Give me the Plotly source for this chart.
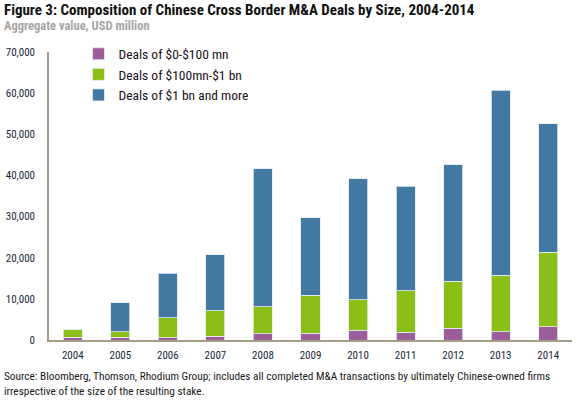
import plotly.graph_objects as go

years = ["2004", "2005", "2006", "2007", "2008", "2009", "2010", "2011", "2012", "2013", "2014"]
small_deals = [700, 700, 530, 920, 1500, 1640, 2370, 1880, 2850, 2050, 3260]
mid_deals = [1800, 1300, 4900, 6130, 6590, 9260, 7410, 10080, 11450, 13700, 18040]
large_deals = [0, 7000, 10770, 13650, 33510, 18800, 29420, 25360, 28330, 44930, 31300]
y_ticks = [0, 10000, 20000, 30000, 40000, 50000, 60000, 70000]

series_names = ["Deals of $0-$100 mn", "Deals of $100mn-$1 bn", "Deals of $1 bn and more"]
series_colors = ["#9B5E9B", "#8BBE17", "#4279A3"]

FONT = "Roboto Condensed, Liberation Sans, sans-serif"
W, H = 578, 402
L, R, T, B = 49, 6, 51.5, 62

fig = go.Figure()
for name, vals, col in zip(series_names, [small_deals, mid_deals, large_deals], series_colors):
    fig.add_trace(go.Bar(
        x=years, y=vals, name=name,
        marker=dict(color=col, line=dict(color="rgba(230,235,240,0.8)", width=1)),
        width=0.4,
    ))

def px(x):
    return (x - L) / (W - L - R)

def py(y):
    return (H - B - y) / (H - T - B)

fig.update_layout(
    width=W, height=H,
    barmode="stack",
    plot_bgcolor="white", paper_bgcolor="white",
    margin=dict(l=L, r=R, t=T, b=B, autoexpand=False),
    font=dict(family=FONT, size=11, color="#1a1f3a"),
    showlegend=True,
    legend=dict(
        x=px(78.5), y=py(38), xanchor="left", yanchor="top",
        traceorder="normal", bgcolor="rgba(0,0,0,0)",
        font=dict(family=FONT, size=13.5, color="#1a1020"),
        itemwidth=30, tracegroupgap=0,
    ),
    xaxis=dict(
        showline=True, linecolor="#A39C88", linewidth=1.5,
        ticks="", showgrid=False, range=[-0.5, 10.5],
        tickfont=dict(size=11, color="#1a1f3a"),
        ticklabelstandoff=4,
    ),
    yaxis=dict(
        range=[0, 70000], tickvals=y_ticks, tickformat=",",
        showline=True, linecolor="#A39C88", linewidth=1.5,
        ticks="", showgrid=False, zeroline=False,
        tickfont=dict(size=11, color="#1a1f3a"),
        ticklabelstandoff=10,
    ),
    annotations=[
        dict(text="<b>Figure 3: Composition of Chinese Cross Border M&A Deals by Size, 2004-2014</b>",
             xref="paper", yref="paper", x=px(2), y=py(9), xanchor="left", yanchor="middle",
             showarrow=False, font=dict(family=FONT, size=15, color="#111111")),
        dict(text="<b>Aggregate value, USD million</b>",
             xref="paper", yref="paper", x=px(2), y=py(25), xanchor="left", yanchor="middle",
             showarrow=False, font=dict(family=FONT, size=12.5, color="#A6A6A6")),
        dict(text="Source: Bloomberg, Thomson, Rhodium Group; includes all completed M&A transactions by ultimately Chinese-owned firms<br>irrespective of the size of the resulting stake.",
             xref="paper", yref="paper", x=px(2), y=py(368.5), xanchor="left", yanchor="top",
             align="left", showarrow=False, font=dict(family=FONT, size=11.3, color="#1a1a1a")),
    ],
)

fig.write_html("out.html", config={"displayModeBar": False},
               post_script="document.body.style.margin='0';document.body.style.padding='0';")
